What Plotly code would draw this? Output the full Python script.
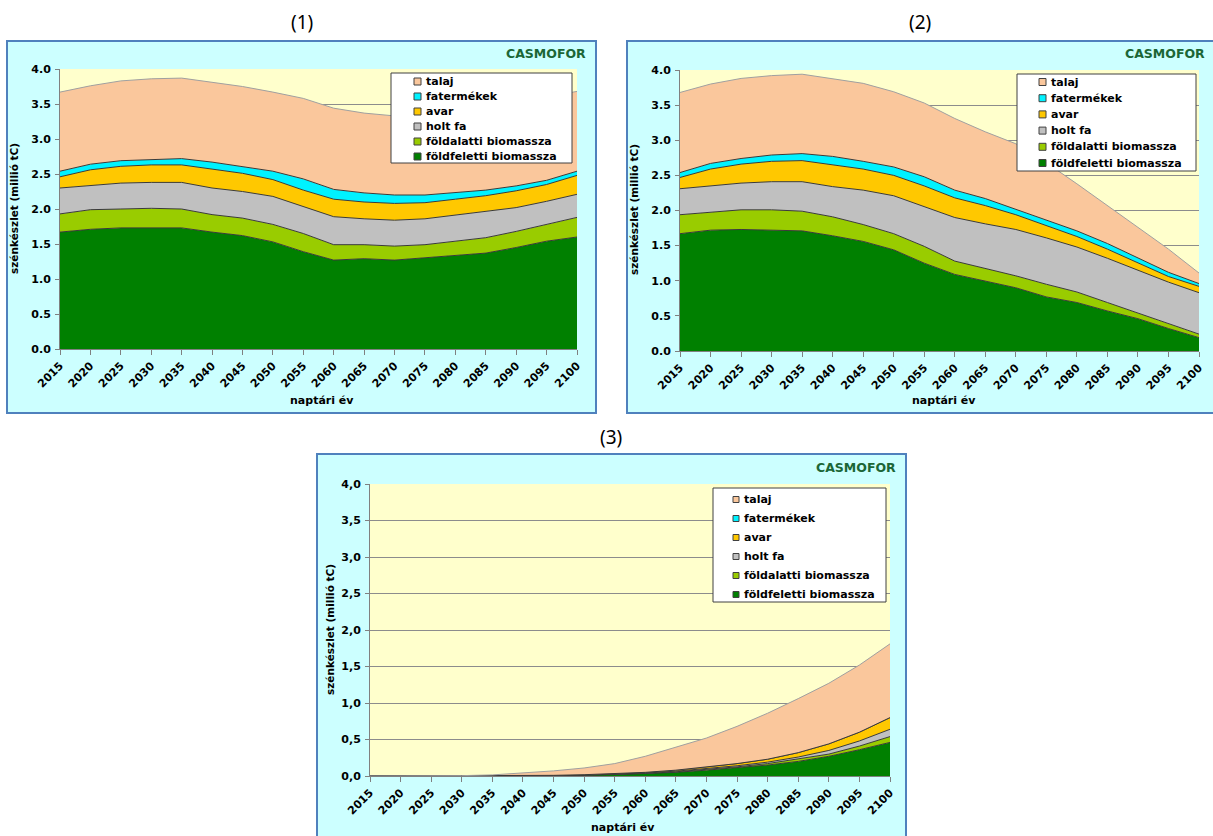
import plotly.graph_objects as go

# ---------------- data ----------------
years = list(range(2015, 2101, 5))
series_names = ["földfeletti biomassza", "földalatti biomassza", "holt fa",
                "avar", "fatermékek", "talaj"]
y_ticks = [0, 0.5, 1.0, 1.5, 2.0, 2.5, 3.0, 3.5, 4.0]
panel_titles = ["(1)", "(2)", "(3)"]

# scenario (1)
s1_foldfeletti = [1.67, 1.71, 1.73, 1.73, 1.73, 1.67, 1.62, 1.53, 1.39, 1.27, 1.29, 1.27, 1.30, 1.34, 1.37, 1.45, 1.54, 1.60]
s1_foldalatti  = [0.26, 0.28, 0.27, 0.28, 0.27, 0.25, 0.25, 0.25, 0.26, 0.22, 0.20, 0.20, 0.19, 0.20, 0.22, 0.23, 0.24, 0.28]
s1_holtfa      = [0.37, 0.35, 0.37, 0.37, 0.38, 0.38, 0.38, 0.40, 0.38, 0.40, 0.37, 0.37, 0.37, 0.37, 0.37, 0.34, 0.33, 0.33]
s1_avar        = [0.16, 0.22, 0.24, 0.25, 0.25, 0.27, 0.26, 0.24, 0.24, 0.25, 0.24, 0.24, 0.23, 0.23, 0.23, 0.24, 0.24, 0.27]
s1_fatermekek  = [0.08, 0.08, 0.08, 0.08, 0.09, 0.10, 0.09, 0.12, 0.16, 0.14, 0.13, 0.12, 0.11, 0.09, 0.08, 0.07, 0.06, 0.06]
s1_talaj       = [1.13, 1.12, 1.14, 1.15, 1.15, 1.14, 1.15, 1.13, 1.15, 1.16, 1.14, 1.13, 1.14, 1.15, 1.18, 1.19, 1.19, 1.14]

# scenario (2)
s2_foldfeletti = [1.67, 1.72, 1.73, 1.72, 1.71, 1.64, 1.56, 1.44, 1.25, 1.09, 1.00, 0.90, 0.77, 0.69, 0.57, 0.46, 0.32, 0.19]
s2_foldalatti  = [0.27, 0.26, 0.28, 0.29, 0.28, 0.27, 0.24, 0.23, 0.24, 0.19, 0.18, 0.17, 0.18, 0.15, 0.12, 0.08, 0.07, 0.05]
s2_holtfa      = [0.37, 0.37, 0.38, 0.40, 0.42, 0.43, 0.49, 0.54, 0.56, 0.62, 0.63, 0.66, 0.66, 0.64, 0.63, 0.61, 0.59, 0.59]
s2_avar        = [0.16, 0.24, 0.27, 0.29, 0.30, 0.31, 0.30, 0.29, 0.30, 0.28, 0.26, 0.21, 0.18, 0.15, 0.13, 0.11, 0.08, 0.09]
s2_fatermekek  = [0.07, 0.08, 0.08, 0.09, 0.10, 0.12, 0.11, 0.12, 0.13, 0.11, 0.10, 0.08, 0.08, 0.08, 0.08, 0.07, 0.06, 0.04]
s2_talaj       = [1.14, 1.13, 1.14, 1.13, 1.13, 1.10, 1.11, 1.07, 1.05, 1.02, 0.95, 0.93, 0.81, 0.67, 0.54, 0.43, 0.33, 0.15]

# scenario (3)
s3_foldfeletti = [0, 0, 0, 0, 0, 0.002, 0.005, 0.010, 0.020, 0.030, 0.050, 0.080, 0.110, 0.150, 0.200, 0.270, 0.360, 0.460]
s3_foldalatti  = [0, 0, 0, 0, 0, 0.000, 0.001, 0.002, 0.003, 0.005, 0.008, 0.010, 0.015, 0.020, 0.030, 0.030, 0.050, 0.080]
s3_holtfa      = [0, 0, 0, 0, 0, 0.000, 0.001, 0.002, 0.003, 0.005, 0.008, 0.010, 0.015, 0.020, 0.030, 0.050, 0.070, 0.100]
s3_avar        = [0, 0, 0, 0, 0, 0.001, 0.002, 0.004, 0.007, 0.010, 0.014, 0.020, 0.030, 0.040, 0.060, 0.090, 0.120, 0.160]
s3_fatermekek  = [0, 0, 0, 0, 0, 0.000, 0.000, 0.000, 0.000, 0.000, 0.000, 0.000, 0.000, 0.000, 0.000, 0.000, 0.000, 0.000]
s3_talaj       = [0, 0, 0, 0.005, 0.015, 0.037, 0.061, 0.092, 0.137, 0.220, 0.310, 0.400, 0.510, 0.630, 0.740, 0.830, 0.920, 1.010]

scenarios = [
    [s1_foldfeletti, s1_foldalatti, s1_holtfa, s1_avar, s1_fatermekek, s1_talaj],
    [s2_foldfeletti, s2_foldalatti, s2_holtfa, s2_avar, s2_fatermekek, s2_talaj],
    [s3_foldfeletti, s3_foldalatti, s3_holtfa, s3_avar, s3_fatermekek, s3_talaj],
]

# ---------------- styles ----------------
fill_colors = ["#008000", "#99CC00", "#C0C0C0", "#FFC800", "#00F2FF", "#FAC79C"]
edge_colors = ["#3a3a3a", "#3a3a3a", "#3a3a3a", "#3a3a3a", "#3a3a3a", "#A0A0A0"]
PANEL_BG = "#CCFFFF"
PLOT_BG = "#FFFFCC"
BORDER = "#4F81BD"
FONT = "DejaVu Sans"

W, H = 1213, 836
def fx(p):
    return p / W
def fy(p):
    return 1 - p / H

# layout geometry in pixels
panels = [
    dict(plot=(60, 69, 577, 349), box=(7, 41, 596, 413),
         legend=(391, 73, 572, 163), sq=(414, 421), tx=424, row0=81.5, step=15.0,
         casmo=(588, 53), title=(302, 22), ytitle=(14, 209), xtitle=(322, 400), dec="."),
    dict(plot=(680, 70, 1199, 351), box=(627, 41, 1222, 413),
         legend=(1017, 74, 1196, 171), sq=(1039, 1046), tx=1049, row0=82.0, step=16.2,
         casmo=(1207, 53), title=(920, 22), ytitle=(634, 210), xtitle=(944, 400), dec="."),
    dict(plot=(370, 484, 890, 776), box=(317, 454, 906, 850),
         legend=(713, 488, 886, 602), sq=(733, 739), tx=742, row0=499.5, step=19.0,
         casmo=(898, 467), title=(611, 437), ytitle=(330, 630), xtitle=(623, 827), dec=","),
]

fig = go.Figure()
shapes = []
annotations = []
bold = dict(family=FONT, size=11, color="black", weight="bold")

for i, (pan, data) in enumerate(zip(panels, scenarios), start=1):
    xa = "x" if i == 1 else f"x{i}"
    ya = "y" if i == 1 else f"y{i}"
    for name, vals, fc, ec in zip(series_names, data, fill_colors, edge_colors):
        fig.add_trace(go.Scatter(
            x=years, y=vals, name=name, stackgroup=f"g{i}", mode="lines",
            line=dict(color=ec, width=1), fillcolor=fc,
            xaxis=xa, yaxis=ya, showlegend=False,
            hovertemplate=name + ": %{y:.2f}<extra></extra>"))

    x0, y0, x1, y1 = pan["plot"]
    ticktext = [f"{v:.1f}".replace(".", pan["dec"]) for v in y_ticks]
    fig.update_layout({
        ("xaxis" if i == 1 else f"xaxis{i}"): dict(
            domain=[fx(x0), fx(x1)], range=[2015, 2100], anchor=ya,
            tickvals=years, tickangle=-45, tickfont=bold,
            ticks="outside", ticklen=5, tickcolor="#808080",
            showline=True, linecolor="#808080", linewidth=1,
            showgrid=False, zeroline=False, fixedrange=True, automargin=False),
        ("yaxis" if i == 1 else f"yaxis{i}"): dict(
            domain=[fy(y1), fy(y0)], range=[0, 4], anchor=xa,
            tickvals=y_ticks, ticktext=ticktext, tickfont=bold,
            ticks="outside", ticklen=4, tickcolor="#808080",
            showline=True, linecolor="#808080", linewidth=1,
            showgrid=True, gridcolor="#8C8C8C", gridwidth=1,
            zeroline=False, fixedrange=True, ticklabelstandoff=2, automargin=False),
    })

    # panel background & border
    bx0, by0, bx1, by1 = pan["box"]
    shapes.append(dict(type="rect", xref="paper", yref="paper", layer="below",
                       x0=fx(bx0), x1=fx(bx1), y0=fy(by1), y1=fy(by0),
                       fillcolor=PANEL_BG, line=dict(color=BORDER, width=2)))
    shapes.append(dict(type="rect", xref="paper", yref="paper", layer="below",
                       x0=fx(x0), x1=fx(x1), y0=fy(y1), y1=fy(y0),
                       fillcolor=PLOT_BG, line=dict(width=0)))

    # legend (drawn manually)
    lx0, ly0, lx1, ly1 = pan["legend"]
    shapes.append(dict(type="rect", xref="paper", yref="paper", layer="above",
                       x0=fx(lx0), x1=fx(lx1), y0=fy(ly1), y1=fy(ly0),
                       fillcolor="white", line=dict(color="#404040", width=1)))
    order = list(range(len(series_names)))[::-1]
    for r, k in enumerate(order):
        cy = pan["row0"] + r * pan["step"]
        sx0, sx1 = pan["sq"]
        half = (sx1 - sx0) / 2
        shapes.append(dict(type="rect", xref="paper", yref="paper", layer="above",
                           x0=fx(sx0), x1=fx(sx1), y0=fy(cy + half), y1=fy(cy - half),
                           fillcolor=fill_colors[k], line=dict(color="#404040", width=1)))
        annotations.append(dict(xref="paper", yref="paper", x=fx(pan["tx"]), y=fy(cy),
                                text=series_names[k], showarrow=False,
                                xanchor="left", yanchor="middle", font=bold))

    # texts
    annotations.append(dict(xref="paper", yref="paper", x=fx(pan["casmo"][0]), y=fy(pan["casmo"][1]),
                            text="CASMOFOR", showarrow=False, xanchor="right", yanchor="middle",
                            font=dict(family=FONT, size=12.5, color="#1B6636", weight="bold")))
    annotations.append(dict(xref="paper", yref="paper", x=fx(pan["title"][0]), y=fy(pan["title"][1]),
                            text=panel_titles[i - 1], showarrow=False, xanchor="center", yanchor="middle",
                            font=dict(family="Noto Sans", size=19, color="black")))
    annotations.append(dict(xref="paper", yref="paper", x=fx(pan["ytitle"][0]), y=fy(pan["ytitle"][1]),
                            text="szénkészlet (millió tC)", showarrow=False, textangle=-90,
                            xanchor="center", yanchor="middle",
                            font=dict(family=FONT, size=10.5, color="black", weight="bold")))
    annotations.append(dict(xref="paper", yref="paper", x=fx(pan["xtitle"][0]), y=fy(pan["xtitle"][1]),
                            text="naptári év", showarrow=False, xanchor="center", yanchor="middle",
                            font=bold))

fig.update_layout(
    width=W, height=H, margin=dict(l=0, r=0, t=0, b=0, pad=0, autoexpand=False),
    paper_bgcolor="white", plot_bgcolor=PLOT_BG,
    showlegend=False, shapes=shapes, annotations=annotations,
)

# the page's default 8px body margin would shift the fixed-size figure
fig.write_html("out.html",
               config={"displayModeBar": False},
               post_script="document.body.style.margin='0px';"
                           "document.body.style.overflow='hidden';")
